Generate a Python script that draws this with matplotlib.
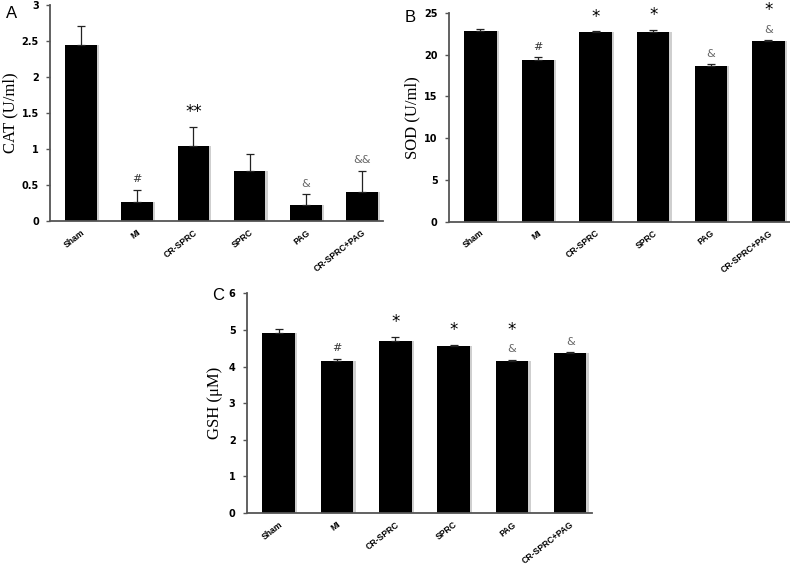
import numpy as np
import matplotlib
matplotlib.use("Agg")
import matplotlib.pyplot as plt
from matplotlib.ticker import FormatStrFormatter

groups = ["Sham", "MI", "CR-SPRC", "SPRC", "PAG", "CR-SPRC+PAG"]

cat_mean = [2.45, 0.27, 1.04, 0.70, 0.22, 0.40]
cat_err = [0.26, 0.16, 0.27, 0.23, 0.15, 0.30]
cat_marks = [[], ["#"], ["**"], [], ["&"], ["&&"]]

sod_mean = [22.88, 19.36, 22.72, 22.72, 18.68, 21.68]
sod_err = [0.25, 0.36, 0.12, 0.31, 0.16, 0.08]
sod_marks = [[], ["#"], ["*"], ["*"], ["&"], ["&", "*"]]

gsh_mean = [4.93, 4.16, 4.70, 4.55, 4.16, 4.38]
gsh_err = [0.11, 0.06, 0.12, 0.04, 0.03, 0.01]
gsh_marks = [[], ["#"], ["*"], ["*"], ["&", "*"], ["&"]]

mark_style = {
    "*": dict(fontsize=12, color="black"),
    "**": dict(fontsize=12, color="black"),
    "#": dict(fontsize=8, color="#333333"),
    "&": dict(fontsize=8, color="#666666"),
    "&&": dict(fontsize=8, color="#666666"),
}


def draw_panel(ax, means, errs, marks, ylim, ystep, ylabel, label_x):
    x = np.arange(len(groups))
    # faint grey drop shadow like the Excel original
    ax.bar(x + 0.04, means, width=0.56, color="#cfcfcf", zorder=1)
    ax.bar(x, means, width=0.56, color="black", zorder=2)
    ax.errorbar(x, means, yerr=[np.zeros(len(errs)), errs], fmt="none",
                ecolor="#222222", elinewidth=0.9, capsize=3, capthick=0.9,
                zorder=3)

    for i, ms in enumerate(marks):
        top = means[i] + errs[i]
        off = 4
        for m in ms:
            st = mark_style[m]
            ax.annotate(m, xy=(i, top), xytext=(0, off),
                        textcoords="offset points", ha="center", va="bottom",
                        fontsize=st["fontsize"], color=st["color"])
            off += 11

    ax.set_xlim(-0.55, 5.37)
    ax.set_ylim(*ylim)
    ax.set_yticks(np.arange(ylim[0], ylim[1] + ystep / 2, ystep))
    ax.yaxis.set_major_formatter(FormatStrFormatter("%g"))
    ax.set_xticks(x)
    ax.set_xticklabels(groups, rotation=38, ha="right", rotation_mode="anchor",
                       fontsize=6.2, fontweight="bold", family="Liberation Sans")
    for lab in ax.get_yticklabels():
        lab.set_fontweight("bold")
        lab.set_fontsize(7)
    ax.tick_params(axis="x", length=0, pad=5)
    ax.tick_params(axis="y", length=3, width=1, color="#555555", pad=5)
    for s in ["top", "right"]:
        ax.spines[s].set_visible(False)
    for s in ["left", "bottom"]:
        ax.spines[s].set_color("#555555")
        ax.spines[s].set_linewidth(1.3)
    ax.set_ylabel(ylabel, family="Liberation Serif", fontsize=12)
    ax.yaxis.set_label_coords(label_x, 0.5)
    return ax


fig = plt.figure(figsize=(7.9, 5.71), dpi=100)

ax1 = fig.add_axes([0.0633, 0.613, 0.4215, 0.378])
draw_panel(ax1, cat_mean, cat_err, cat_marks, (0, 3), 0.5, "CAT (U/ml)", -0.094)
fig.text(12 / 790, 1 - 13 / 571, "A", family="Liberation Sans", fontsize=12,
         ha="center", va="center")

ax2 = fig.add_axes([0.568, 0.612, 0.4316, 0.365])
draw_panel(ax2, sod_mean, sod_err, sod_marks, (0, 25), 5, "SOD (U/ml)", -0.082)
fig.text(410 / 790, 1 - 17 / 571, "B", family="Liberation Sans", fontsize=12,
         ha="center", va="center")

ax3 = fig.add_axes([0.3123, 0.1016, 0.4367, 0.3846])
draw_panel(ax3, gsh_mean, gsh_err, gsh_marks, (0, 6), 1, "GSH (\u03bcM)", -0.069)
fig.text(218 / 790, 1 - 295 / 571, "C", family="Liberation Sans", fontsize=12,
         ha="center", va="center")

fig.savefig("out.png", dpi=100)
